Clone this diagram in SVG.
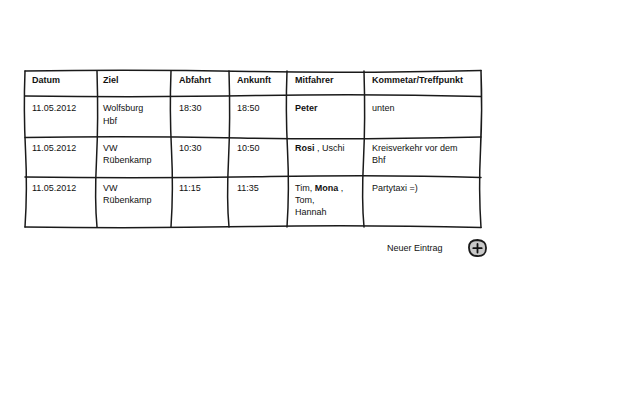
<svg xmlns="http://www.w3.org/2000/svg" width="640" height="400" viewBox="0 0 640 400">
<style>
.ln{fill:none;stroke:#1a1a1a;stroke-width:1.5;stroke-linecap:round;stroke-linejoin:round}
.t{font-family:"Liberation Sans",Arial,sans-serif;font-size:9px;fill:#111}
.b{font-weight:bold}
</style>
<rect width="640" height="400" fill="#ffffff"/>
<g id="table">
<g id="grid">
<path class="ln" d="M25,71 Q140,69.5 250,71.5 T481,70.5"/>
<path class="ln" d="M25,96 Q150,97.5 260,95.5 T481,96.5"/>
<path class="ln" d="M25,137.5 Q130,136 240,138 T481,137"/>
<path class="ln" d="M25,177 Q150,178.5 270,176.5 T481,177.5"/>
<path class="ln" d="M25,227 Q140,228.5 250,226.5 T481,227.5"/>
<path class="ln" d="M25,71 Q23.5,110 25.5,150 T25,227"/>
<path class="ln" d="M97,71 Q98.5,120 96.5,160 T97,227"/>
<path class="ln" d="M171,71 Q169.5,110 171.5,150 T171,227"/>
<path class="ln" d="M229,71 Q230.5,120 228.5,160 T229,227"/>
<path class="ln" d="M287,71 Q285.5,110 287.5,150 T287,227"/>
<path class="ln" d="M364,71 Q365.5,120 363.5,160 T364,227"/>
<path class="ln" d="M481,70.5 Q482.5,110 480.5,150 T481,227.5"/>
</g>
<g id="header">
<text class="t b" x="32" y="83">Datum</text>
<text class="t b" x="103" y="83">Ziel</text>
<text class="t b" x="179" y="83">Abfahrt</text>
<text class="t b" x="237" y="83">Ankunft</text>
<text class="t b" x="295" y="83">Mitfahrer</text>
<text class="t b" x="372" y="83">Kommetar/Treffpunkt</text>
</g>
<g id="row1">
<text class="t" x="32" y="111">11.05.2012</text>
<text class="t" x="103" y="111">Wolfsburg</text>
<text class="t" x="103" y="124">Hbf</text>
<text class="t" x="179" y="111">18:30</text>
<text class="t" x="237" y="111">18:50</text>
<text class="t b" x="295" y="111">Peter</text>
<text class="t" x="372" y="111">unten</text>
</g>
<g id="row2">
<text class="t" x="32" y="151">11.05.2012</text>
<text class="t" x="103" y="151">VW</text>
<text class="t" x="103" y="163">Rübenkamp</text>
<text class="t" x="179" y="151">10:30</text>
<text class="t" x="237" y="151">10:50</text>
<text class="t" x="295" y="151"><tspan class="b">Rosi</tspan> , Uschi</text>
<text class="t" x="372" y="151">Kreisverkehr vor dem</text>
<text class="t" x="372" y="163">Bhf</text>
</g>
<g id="row3">
<text class="t" x="32" y="191">11.05.2012</text>
<text class="t" x="103" y="191">VW</text>
<text class="t" x="103" y="203">Rübenkamp</text>
<text class="t" x="179" y="191">11:15</text>
<text class="t" x="237" y="191">11:35</text>
<text class="t" x="295" y="191">Tim, <tspan class="b">Mona</tspan> ,</text>
<text class="t" x="295" y="203">Tom,</text>
<text class="t" x="295" y="215">Hannah</text>
<text class="t" x="372" y="191">Partytaxi =)</text>
</g>
</g>
<g id="new-entry">
<text class="t" x="387" y="251">Neuer Eintrag</text>
</g>
<g id="add-button">
<path d="M469,248 Q468.5,240 477.5,240 Q486.5,240.5 486,248.5 Q486,256.5 477,256 Q469.5,256 469,248 Z" fill="#c8c8c8" stroke="#1a1a1a" stroke-width="1.8"/>
<path d="M477.5,244 L477.5,252.5 M473.3,248.2 L481.7,248.2" stroke="#111" stroke-width="1.8" stroke-linecap="round" fill="none"/>
</g>
</svg>
